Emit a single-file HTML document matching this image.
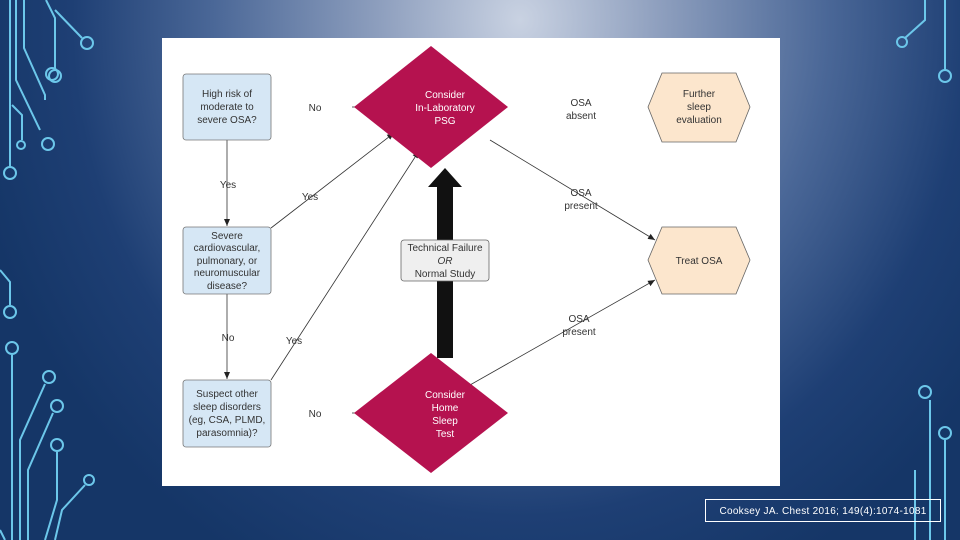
<!DOCTYPE html>
<html><head><meta charset="utf-8"><style>
html,body{margin:0;padding:0;width:960px;height:540px;overflow:hidden}
body{background:radial-gradient(ellipse 560px 620px at 520px 20px,#c9d2e2 0%,#8e9fbe 25%,#4a6797 55%,#1e3f74 80%,#153667 100%);font-family:"Liberation Sans",sans-serif}
svg{position:absolute;left:0;top:0}
</style></head><body>
<svg width="960" height="540" viewBox="0 0 960 540">
<defs><marker id="a" markerWidth="8" markerHeight="8" refX="7" refY="4" orient="auto" markerUnits="userSpaceOnUse"><path d="M0,1 L7,4 L0,7 z" fill="#222"/></marker></defs>
<g stroke="#6cc7ea" stroke-width="2" fill="none">
<path d="M10,0 V168"/><circle cx="10" cy="173" r="6"/>
<path d="M24,0 V48 L45,95 V100"/><circle cx="52" cy="74" r="6"/>
<path d="M16,0 V80 L40,130"/><circle cx="48" cy="144" r="6"/>
<path d="M46,0 L55,18 V70"/><circle cx="55" cy="76" r="6"/>
<path d="M55,10 L82,38"/><circle cx="87" cy="43" r="6"/>
<path d="M12,105 L22,115 V140"/><circle cx="21" cy="145" r="4"/>
<path d="M0,270 L10,282 V305"/><circle cx="10" cy="312" r="6"/>
<path d="M12,355 V540"/><circle cx="12" cy="348" r="6"/>
<path d="M20,540 V440 L45,384"/><circle cx="49" cy="377" r="6"/>
<path d="M28,540 V470 L53,413"/><circle cx="57" cy="406" r="6"/>
<path d="M57,452 V500 L45,540"/><circle cx="57" cy="445" r="6"/>
<path d="M55,540 L62,510 L85,485"/><circle cx="89" cy="480" r="5"/>
<path d="M0,530 L5,540"/>
<path d="M945,0 V70"/><circle cx="945" cy="76" r="6"/>
<path d="M925,0 V20 L905,38"/><circle cx="902" cy="42" r="5"/>
<path d="M930,540 V400"/><circle cx="925" cy="392" r="6"/>
<path d="M945,540 V440"/><circle cx="945" cy="433" r="6"/>
<path d="M915,540 L915,470"/>
</g>
<rect x="162" y="38" width="618" height="448" fill="#fff"/>
<g stroke="#333" stroke-width="0.8" fill="none">
<line x1="227" y1="140" x2="227" y2="226" marker-end="url(#a)"/>
<line x1="227" y1="294" x2="227" y2="379" marker-end="url(#a)"/>
<line x1="271" y1="228" x2="394" y2="133" marker-end="url(#a)"/>
<line x1="271" y1="380" x2="419" y2="151" marker-end="url(#a)"/>
<line x1="352" y1="107" x2="368" y2="107" marker-end="url(#a)"/>
<line x1="352" y1="413" x2="368" y2="413" marker-end="url(#a)"/>
<line x1="490" y1="140" x2="655" y2="240" marker-end="url(#a)"/>
<line x1="470" y1="385" x2="655" y2="280" marker-end="url(#a)"/>
</g>
<rect x="437" y="186" width="16" height="172" fill="#111"/>
<polygon points="445,168 462,187 428,187" fill="#111"/>
<g stroke="#777" stroke-width="0.8" fill="#d6e7f5">
<rect x="183" y="74" width="88" height="66" rx="3"/>
<rect x="183" y="227" width="88" height="67" rx="3"/>
<rect x="183" y="380" width="88" height="67" rx="3"/>
</g>
<rect x="401" y="240" width="88" height="41" rx="3" fill="#efefef" stroke="#666" stroke-width="0.8"/>
<polygon points="431,46 508,107 431,168 354,107" fill="#b5124f"/>
<polygon points="431,353 508,413 431,473 354,413" fill="#b5124f"/>
<g fill="#fce6cd" stroke="#666" stroke-width="0.8">
<polygon points="662,73 736,73 750,107 736,142 662,142 648,107"/>
<polygon points="662,227 736,227 750,260 736,294 662,294 648,260"/>
</g>
<g font-size="10" fill="#333" text-anchor="middle" font-family="Liberation Sans,sans-serif">
<text x="227" y="97">High risk of</text><text x="227" y="110">moderate to</text><text x="227" y="123">severe OSA?</text>
<text x="227" y="239">Severe</text><text x="227" y="251">cardiovascular,</text><text x="227" y="264">pulmonary, or</text><text x="227" y="276">neuromuscular</text><text x="227" y="289">disease?</text>
<text x="227" y="397">Suspect other</text><text x="227" y="410">sleep disorders</text><text x="227" y="423">(eg, CSA, PLMD,</text><text x="227" y="436">parasomnia)?</text>
<text x="445" y="251">Technical Failure</text><text x="445" y="264" font-style="italic">OR</text><text x="445" y="277">Normal Study</text>
<text x="699" y="97">Further</text><text x="699" y="110">sleep</text><text x="699" y="123">evaluation</text>
<text x="699" y="264">Treat OSA</text>
<text x="315" y="111">No</text><text x="315" y="417">No</text>
<text x="228" y="188">Yes</text><text x="310" y="200">Yes</text>
<text x="228" y="341">No</text><text x="294" y="344">Yes</text>
<text x="581" y="106">OSA</text><text x="581" y="119">absent</text>
<text x="581" y="196">OSA</text><text x="581" y="209">present</text>
<text x="579" y="322">OSA</text><text x="579" y="335">present</text>
</g>
<g font-size="10" fill="#fff" text-anchor="middle">
<text x="445" y="98">Consider</text><text x="445" y="111">In-Laboratory</text><text x="445" y="124">PSG</text>
<text x="445" y="398">Consider</text><text x="445" y="411">Home</text><text x="445" y="424">Sleep</text><text x="445" y="437">Test</text>
</g>
<rect x="705.5" y="499.5" width="235" height="22" fill="none" stroke="#fff" stroke-width="1"/>
<text x="823" y="514" font-size="10" fill="#fff" text-anchor="middle" letter-spacing="0.3">Cooksey JA. Chest 2016; 149(4):1074-1081</text>
</svg>
</body></html>
